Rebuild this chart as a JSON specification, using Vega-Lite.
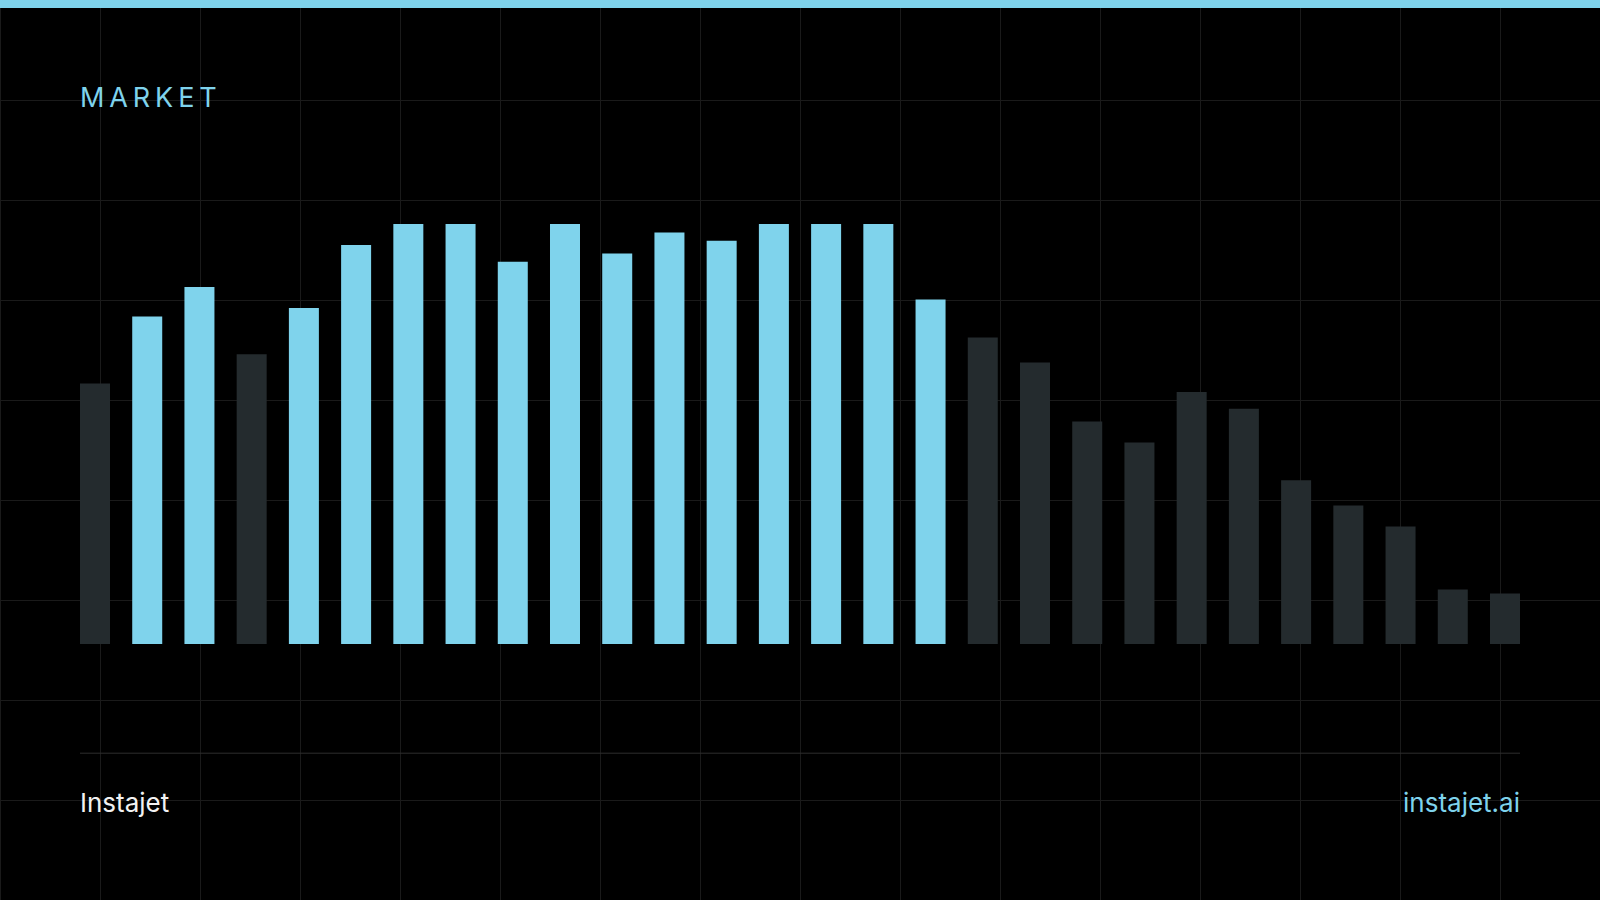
{
  "$schema": "https://vega.github.io/schema/vega-lite/v6.json",
  "width": 1600,
  "height": 900,
  "autosize": {"type": "fit", "contains": "padding"},
  "padding": 0,
  "background": "#000000",
  "config": {"view": {"stroke": null}},
  "resolve": {"scale": {"x": "independent", "y": "independent"}},
  "layer": [
    {
      "data": {"values": [{"part": "accent"}]},
      "mark": {"type": "rect", "color": "#7fd3ec"},
      "encoding": {
        "x": {
          "datum": 0,
          "type": "quantitative",
          "scale": {"domain": [0, 1600], "nice": false, "zero": false},
          "axis": {
            "grid": true,
            "gridColor": "#1a1a1a",
            "gridWidth": 1,
            "values": [0, 100, 200, 300, 400, 500, 600, 700, 800, 900, 1000, 1100, 1200, 1300, 1400, 1500, 1600],
            "labels": false,
            "ticks": false,
            "domain": false,
            "title": null
          }
        },
        "x2": {"datum": 1600},
        "y": {
          "datum": 0,
          "type": "quantitative",
          "scale": {"domain": [0, 900], "nice": false, "zero": false, "reverse": true},
          "axis": {
            "grid": true,
            "gridColor": "#1a1a1a",
            "gridWidth": 1,
            "values": [0, 100, 200, 300, 400, 500, 600, 700, 800, 900],
            "labels": false,
            "ticks": false,
            "domain": false,
            "title": null
          }
        },
        "y2": {"datum": 8}
      }
    },
    {
      "layer": [
        {
          "data": {
            "values": [
              {"period": 1, "share": 62, "status": "other"},
              {"period": 2, "share": 78, "status": "highlighted"},
              {"period": 3, "share": 85, "status": "highlighted"},
              {"period": 4, "share": 69, "status": "other"},
              {"period": 5, "share": 80, "status": "highlighted"},
              {"period": 6, "share": 95, "status": "highlighted"},
              {"period": 7, "share": 100, "status": "highlighted"},
              {"period": 8, "share": 100, "status": "highlighted"},
              {"period": 9, "share": 91, "status": "highlighted"},
              {"period": 10, "share": 100, "status": "highlighted"},
              {"period": 11, "share": 93, "status": "highlighted"},
              {"period": 12, "share": 98, "status": "highlighted"},
              {"period": 13, "share": 96, "status": "highlighted"},
              {"period": 14, "share": 100, "status": "highlighted"},
              {"period": 15, "share": 100, "status": "highlighted"},
              {"period": 16, "share": 100, "status": "highlighted"},
              {"period": 17, "share": 82, "status": "highlighted"},
              {"period": 18, "share": 73, "status": "other"},
              {"period": 19, "share": 67, "status": "other"},
              {"period": 20, "share": 53, "status": "other"},
              {"period": 21, "share": 48, "status": "other"},
              {"period": 22, "share": 60, "status": "other"},
              {"period": 23, "share": 56, "status": "other"},
              {"period": 24, "share": 39, "status": "other"},
              {"period": 25, "share": 33, "status": "other"},
              {"period": 26, "share": 28, "status": "other"},
              {"period": 27, "share": 13, "status": "other"},
              {"period": 28, "share": 12, "status": "other"}
            ]
          },
          "mark": {"type": "bar"},
          "encoding": {
            "x": {
              "field": "period",
              "type": "ordinal",
              "scale": {"range": [80, 1520], "paddingInner": 0.4255, "paddingOuter": 0},
              "axis": null
            },
            "y": {
              "field": "share",
              "type": "quantitative",
              "stack": null,
              "scale": {"domain": [-60.952, 153.333], "nice": false, "zero": false},
              "axis": null
            },
            "y2": {"datum": 0},
            "color": {
              "field": "status",
              "type": "nominal",
              "scale": {"domain": ["highlighted", "other"], "range": ["#7fd3ec", "#242b2e"]},
              "legend": null
            }
          }
        },
        {
          "data": {"values": [{"part": "divider"}]},
          "mark": {"type": "rule", "color": "#2e2e2e", "strokeWidth": 1},
          "encoding": {
            "x": {"datum": 1, "type": "ordinal", "bandPosition": 0},
            "x2": {"datum": 28, "bandPosition": 1},
            "y": {"datum": -26, "type": "quantitative"}
          }
        },
        {
          "data": {"values": [{"label": "M\u2009A\u2009R\u2009K\u2009E\u2009T"}]},
          "mark": {"type": "text", "align": "left", "baseline": "alphabetic", "font": "Inter", "fontSize": 27, "color": "#7fd3ec"},
          "encoding": {
            "x": {"datum": 1, "type": "ordinal", "bandPosition": 0},
            "y": {"datum": 127.86, "type": "quantitative"},
            "text": {"field": "label"}
          }
        },
        {
          "data": {"values": [{"label": "Instajet"}]},
          "mark": {"type": "text", "align": "left", "baseline": "alphabetic", "font": "Inter", "fontSize": 26, "color": "#f2f2f2"},
          "encoding": {
            "x": {"datum": 1, "type": "ordinal", "bandPosition": 0},
            "y": {"datum": -40, "type": "quantitative"},
            "text": {"field": "label"}
          }
        },
        {
          "data": {"values": [{"label": "instajet.ai"}]},
          "mark": {"type": "text", "align": "right", "baseline": "alphabetic", "font": "Inter", "fontSize": 26, "color": "#7fd3ec"},
          "encoding": {
            "x": {"datum": 28, "type": "ordinal", "bandPosition": 1},
            "y": {"datum": -40, "type": "quantitative"},
            "text": {"field": "label"}
          }
        }
      ]
    }
  ]
}
